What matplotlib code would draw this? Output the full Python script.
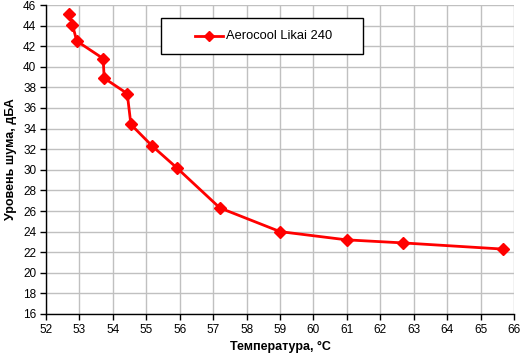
import matplotlib
matplotlib.use('Agg')
import matplotlib.pyplot as plt
from matplotlib.patches import Rectangle
from matplotlib.lines import Line2D

temp = [52.70, 52.79, 52.92, 53.71, 53.74, 54.43, 54.54, 55.18, 55.91, 57.20, 59.00, 60.99, 62.69, 65.68]
noise = [45.1, 44.1, 42.5, 40.8, 38.9, 37.4, 34.4, 32.3, 30.2, 26.3, 24.0, 23.2, 22.9, 22.3]
series_name = 'Aerocool Likai 240'
x_ticks = list(range(52, 67))
y_ticks = list(range(16, 47, 2))

plt.rcParams['font.family'] = ['Liberation Sans', 'DejaVu Sans']

W, H = 521, 357
fig = plt.figure(figsize=(W / 100, H / 100), dpi=100)
ax = fig.add_axes([46 / W, 1 - 314 / H, (514 - 46) / W, (314 - 5) / H])

red = '#ff0000'
ax.plot(temp, noise, color=red, lw=2, marker='D', ms=6.5,
        markerfacecolor=red, markeredgecolor=red)

ax.set_xlim(52, 66)
ax.set_ylim(16, 46)
ax.set_xticks(x_ticks)
ax.set_yticks(y_ticks)
ax.grid(True, color='#c0c0c0', lw=1)
ax.set_axisbelow(True)
ax.tick_params(direction='out', length=4, width=1, labelsize=8.5, colors='black', pad=3)

for side in ['top', 'right']:
    ax.spines[side].set_visible(False)
for side in ['left', 'bottom']:
    ax.spines[side].set_color('black')
    ax.spines[side].set_linewidth(1)

ax.set_xlabel('Температура, °С', fontsize=9, fontweight='bold', labelpad=4)
ax.set_ylabel('Уровень шума, дБА', fontsize=9, fontweight='bold', labelpad=4)

# legend box drawn by hand (figure pixel coords, y from top)
def fx(px):
    return px / W

def fy(py):
    return 1 - py / H

fig.patches.append(Rectangle((fx(161), fy(54)), fx(363) - fx(161), fy(18) - fy(54),
                             transform=fig.transFigure, facecolor='white',
                             edgecolor='black', lw=1, zorder=5))
fig.lines.append(Line2D([fx(195), fx(223)], [fy(36), fy(36)], transform=fig.transFigure,
                        color=red, lw=2, zorder=6))
fig.lines.append(Line2D([fx(209)], [fy(36)], transform=fig.transFigure, color=red,
                        marker='D', ms=5, zorder=7))
fig.text(fx(226), fy(36), series_name, fontsize=9.3, va='center', ha='left', zorder=8)

fig.savefig('out.png', dpi=100)
